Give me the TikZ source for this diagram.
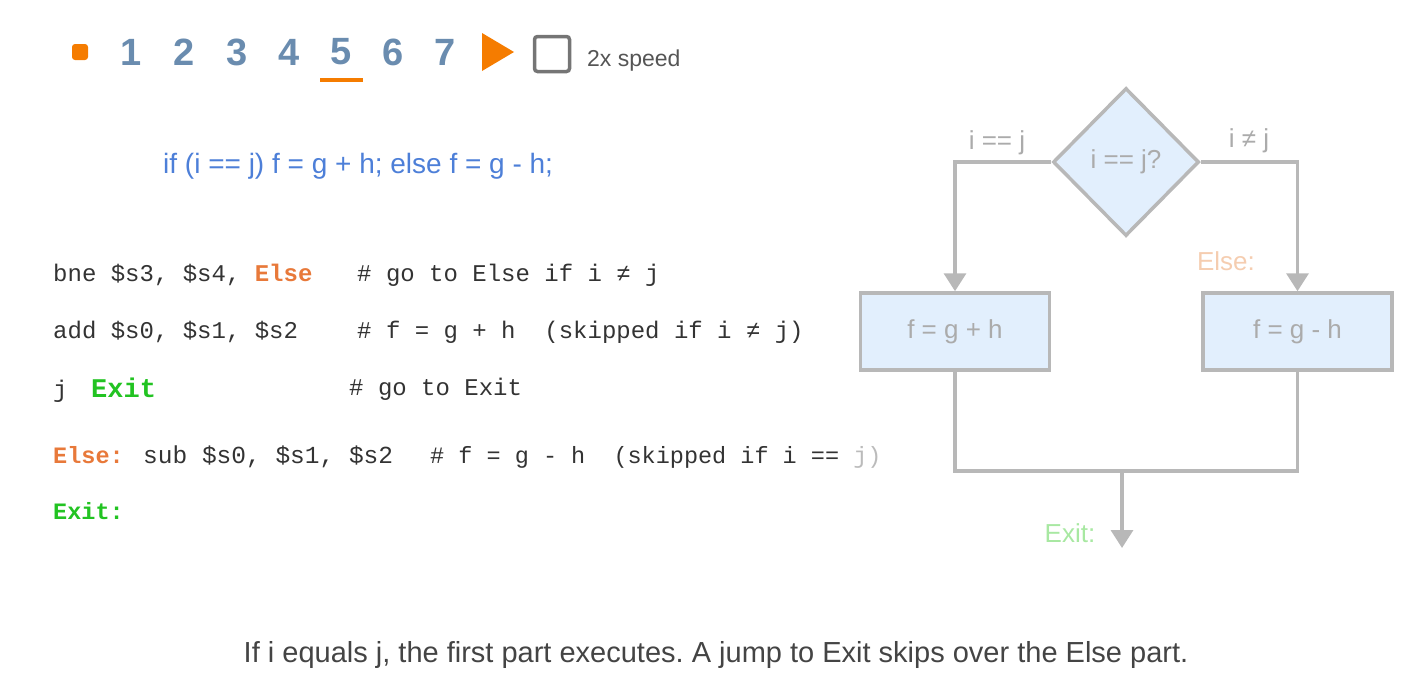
\documentclass[tikz,border=0pt]{standalone}
\usepackage{fontspec}
\setmainfont{Liberation Sans}
\setmonofont{Liberation Mono}
\usetikzlibrary{arrows.meta,positioning,shapes.geometric}
\definecolor{playorange}{HTML}{F57C00}
\definecolor{digitblue}{HTML}{6A8CAF}
\definecolor{boxgray}{HTML}{757575}
\definecolor{speedgray}{HTML}{555555}
\definecolor{codeblue}{HTML}{4D7FD8}
\definecolor{codegray}{HTML}{333333}
\definecolor{elseorange}{HTML}{E8793A}
\definecolor{exitgreen}{HTML}{22C322}
\definecolor{jgray}{HTML}{BBBBBB}
\definecolor{flowgray}{HTML}{B8B8B8}
\definecolor{flowfill}{HTML}{E2EFFD}
\definecolor{flowtext}{HTML}{ABABAB}
\definecolor{elsepeach}{HTML}{F5CDB0}
\definecolor{exitlight}{HTML}{A8E8A2}
\definecolor{captiongray}{HTML}{444444}
\frenchspacing

\begin{document}
\begin{tikzpicture}[x=1pt, y=-1pt,
  digit/.style={text=digitblue, font=\bfseries\fontsize{38}{44}\selectfont, inner sep=0pt},
  asm/.style={anchor=base west, inner sep=0pt, text=codegray,
    font=\ttfamily\fontsize{24}{29}\selectfont},
  flowline/.style={draw=flowgray, line width=3.5pt},
  flowarrow/.style={flowline, -{Triangle[width=22pt,length=18pt]}},
  flowbox/.style={draw=flowgray, fill=flowfill, line width=3.5pt, inner sep=0pt,
    minimum width=189pt, minimum height=77pt, text=flowtext,
    font=\fontsize{26}{30}\selectfont},
  flowlbl/.style={text=flowtext, inner sep=0pt, font=\fontsize{26}{30}\selectfont}]
\useasboundingbox (0,0) rectangle (1418,694);
% Player bar
\node[fill=playorange, rounded corners=3pt, minimum size=16pt, inner sep=0pt] (stop) at (80,52) {};
\foreach \d/\x in {1/131,2/184,3/237,4/289,5/341,6/393,7/445}
  \node[digit] (d\d) at (\x,52) {\d};
\fill[playorange] (320,78) rectangle (363,82);
\fill[playorange] (482,33) -- (514,52) -- (482,71) -- cycle;
\node[draw=boxgray, line width=3.5pt, rounded corners=3pt, minimum size=35pt, inner sep=0pt] (chk) at (552,54) {};
\node[anchor=base west, inner sep=0pt, text=speedgray, font=\fontsize{23}{27}\selectfont] (speed) at (587,66) {2x speed};
% Source line
\node[anchor=west, inner sep=0pt, text=codeblue, font=\fontsize{28}{33}\selectfont] (src) at (163,166)
  {if (i == j) f = g + h; else f = g - h;};
% Assembly
\node[asm] (l1) at (53,281) {bne \$s3, \$s4, \textcolor{elseorange}{\bfseries Else}};
\node[asm] (c1) at (357,281) {\# go to Else if i ≠ j};
\node[asm] (l2) at (53,338) {add \$s0, \$s1, \$s2};
\node[asm] (c2) at (357,338) {\# f = g + h\ \ (skipped if i ≠ j)};
\node[asm] (l3) at (53,397) {j};
\node[asm, text=exitgreen, font=\ttfamily\bfseries\fontsize{27}{32}\selectfont] (l3x) at (91,397) {Exit};
\node[asm] (c3) at (349,395) {\# go to Exit};
\node[asm, text=elseorange, font=\ttfamily\bfseries\fontsize{23.5}{28}\selectfont] (l4lbl) at (53,463) {Else:};
\node[asm, font=\ttfamily\fontsize{24.5}{29}\selectfont] (l4) at (143,463) {sub \$s0, \$s1, \$s2};
\node[asm, font=\ttfamily\fontsize{23.5}{28}\selectfont] (c4) at (430,463)
  {\# f = g - h\ \ (skipped if i == \textcolor{jgray}{j)}};
\node[asm, text=exitgreen, font=\ttfamily\bfseries\fontsize{23.5}{28}\selectfont] (l5) at (53,519) {Exit:};
% Flowchart
\node[diamond, draw=flowgray, fill=flowfill, line width=3.5pt, inner sep=0pt,
  minimum width=146pt, minimum height=148pt, text=flowtext,
  font=\fontsize{26}{30}\selectfont] (dec) at (1126,162) {i == j?};
\node[flowbox] (lbox) at (955,331.5) {f = g + h};
\node[flowbox] (rbox) at (1297.5,331.5) {f = g - h};
\node[flowlbl] (eqlbl) at (997,143) {i == j};
\node[flowlbl] (nelbl) at (1249,141) {i ≠ j};
\node[flowlbl, text=elsepeach] (elselbl) at (1226,261) {Else:};
\node[flowlbl, text=exitlight] (exitlbl) at (1070,533) {Exit:};
\coordinate (join) at (1122,471);
\coordinate (exitpt) at (1122,548);
\draw[flowarrow] (dec.west) -| (lbox.north);
\draw[flowarrow] (dec.east) -| (rbox.north);
\draw[flowline] (lbox.south) |- (join) -| (rbox.south);
\draw[flowarrow] (join) -- (exitpt);
% Caption
\node[inner sep=0pt, text=captiongray, font=\fontsize{29}{34}\selectfont] (caption) at (716,655)
  {If i equals j, the first part executes. A jump to Exit skips over the Else part.};
\end{tikzpicture}
\end{document}
